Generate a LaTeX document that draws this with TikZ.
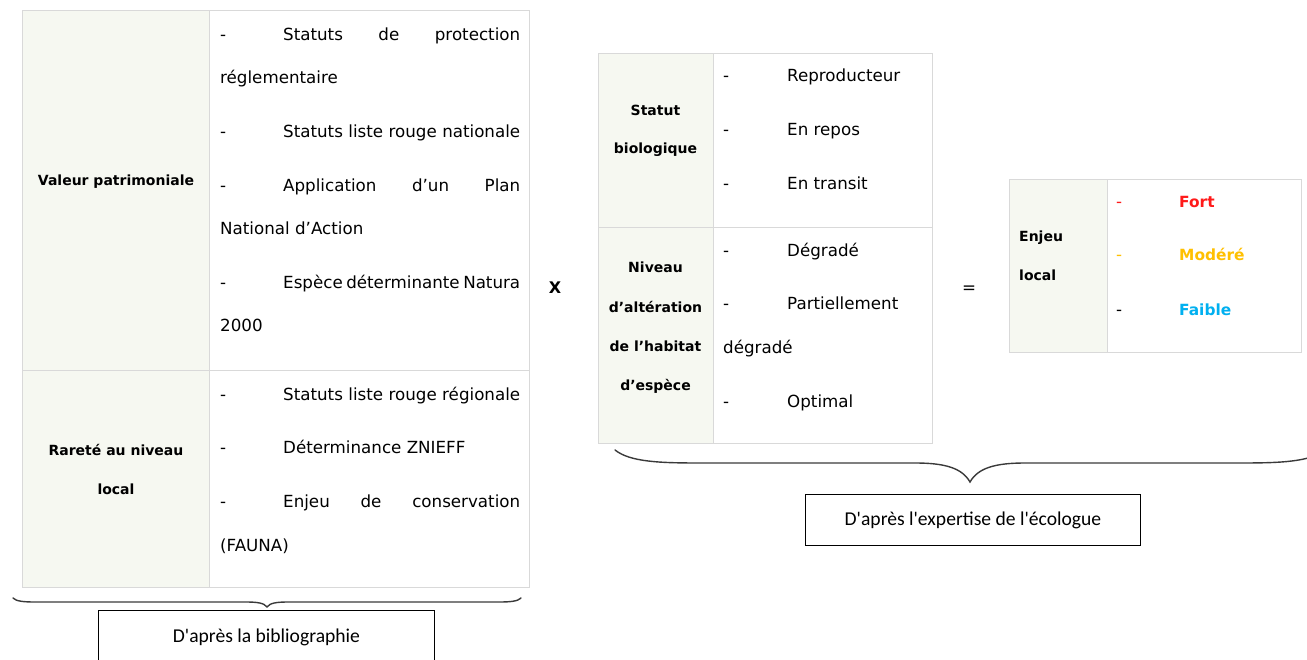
\documentclass[tikz,border=0pt]{standalone}
\usepackage{fontspec}
\setmainfont{DejaVu Sans}
\newfontfamily\boxfont{Carlito}
\definecolor{cellbg}{HTML}{F6F8F1}
\definecolor{cellln}{HTML}{D9D9D9}
\definecolor{fortc}{HTML}{FF1A1A}
\definecolor{modc}{HTML}{FFC000}
\definecolor{faic}{HTML}{00B0F0}
\definecolor{bracec}{HTML}{3A3A3A}
\newcommand\txtf{\fontsize{16.7}{20}\selectfont}
\newcommand\labf{\fontsize{14}{17}\selectfont\bfseries}
\newcommand\colf{\fontsize{15.4}{18}\selectfont\bfseries}
\newcommand\boxf{\boxfont\fontsize{19.6}{23}\selectfont}
\newcommand\mydash[1][63pt]{\makebox[#1][l]{-}}
\newcommand\myjust[1]{\makebox[300pt][s]{#1}}
\begin{document}
\begin{tikzpicture}[x=1pt,y=-1pt,
  cellL/.style={fill=cellbg,draw=cellln,line width=1.3pt,inner sep=0,anchor=north west},
  cellR/.style={fill=white,draw=cellln,line width=1.3pt,inner sep=0,anchor=north west},
  txt/.style={font=\txtf,inner sep=0,anchor=base west},
  lab/.style={font=\labf,inner sep=0,anchor=base},
  labw/.style={font=\labf,inner sep=0,anchor=base west},
  colw/.style={font=\colf,inner sep=0,anchor=base west},
  srcbox/.style={draw=black,line width=0.9pt,inner sep=0,anchor=north west,font=\boxf},
  bracest/.style={draw=bracec,line width=1.4pt,line cap=round}]
\useasboundingbox (0,0) rectangle (1307,660);
% ---------- left table
\node[cellL,minimum width=187,minimum height=360] (vpL) at (22,10) {};
\node[cellR,minimum width=320,minimum height=360] (vpR) at (209,10) {};
\node[cellL,minimum width=187,minimum height=217] (raL) at (22,370) {};
\node[cellR,minimum width=320,minimum height=217] (raR) at (209,370) {};
\node[lab] (l1) at (116,186) {Valeur patrimoniale};
\node[lab] (l2) at (116,455) {Rareté au niveau};
\node[lab] (l3) at (116,494) {local};
\node[txt] (a1) at (220,40.5) {\myjust{\mydash Statuts de protection}};
\node[txt] (a2) at (220,84) {réglementaire};
\node[txt] (a3) at (220,138) {\myjust{\mydash Statuts liste rouge nationale}};
\node[txt] (a4) at (220,191.5) {\myjust{\mydash Application d’un Plan}};
\node[txt] (a5) at (220,235) {National d’Action};
\node[txt] (a6) at (220,289) {\myjust{\mydash Espèce déterminante Natura}};
\node[txt] (a7) at (220,332) {2000};
\node[txt] (a8) at (220,400) {\myjust{\mydash Statuts liste rouge régionale}};
\node[txt] (a9) at (220,453) {\mydash Déterminance ZNIEFF};
\node[txt] (a10) at (220,507) {\myjust{\mydash Enjeu de conservation}};
\node[txt] (a11) at (220,551) {(FAUNA)};
% ---------- middle table
\node[cellL,minimum width=115,minimum height=174] (sbL) at (598,53) {};
\node[cellR,minimum width=219,minimum height=174] (sbR) at (713,53) {};
\node[cellL,minimum width=115,minimum height=216] (nvL) at (598,227) {};
\node[cellR,minimum width=219,minimum height=216] (nvR) at (713,227) {};
\node[lab] (m1) at (655.5,116) {Statut};
\node[lab] (m2) at (655.5,154) {biologique};
\node[lab] (m3) at (655.5,273) {Niveau};
\node[lab] (m4) at (655.5,313) {d’altération};
\node[lab] (m5) at (655.5,352) {de l’habitat};
\node[lab] (m6) at (655.5,391) {d’espèce};
\node[txt] (b1) at (723,82) {\mydash[64pt]Reproducteur};
\node[txt] (b2) at (723,136) {\mydash[64pt]En repos};
\node[txt] (b3) at (723,190) {\mydash[64pt]En transit};
\node[txt] (b4) at (723,257) {\mydash[64pt]Dégradé};
\node[txt] (b5) at (723,310) {\mydash[64pt]Partiellement};
\node[txt] (b6) at (723,353) {dégradé};
\node[txt] (b7) at (723,407) {\mydash[64pt]Optimal};
% ---------- right table
\node[cellL,minimum width=98,minimum height=173] (elL) at (1009,179) {};
\node[cellR,minimum width=194,minimum height=173] (elR) at (1107,179) {};
\node[labw] (r1) at (1019,242) {Enjeu};
\node[labw] (r2) at (1019,281) {local};
\node[txt] (c1) at (1116,208) {\textcolor{fortc}{\mydash}\textcolor{fortc}{\colf Fort}};
\node[txt] (c2) at (1116,261) {\textcolor{modc}{\mydash}\textcolor{modc}{\colf Modéré}};
\node[txt] (c3) at (1116,316) {\mydash\textcolor{faic}{\colf Faible}};
% ---------- operators
\node[font=\fontsize{16}{18}\selectfont\bfseries,inner sep=0] (opx) at (555,288) {X};
\node[font=\txtf,inner sep=0] (opeq) at (969,290) {=};
% ---------- braces
\draw[bracest] (13,598) .. controls (16,601) and (22,602) .. (35,602) -- (245,602)
  .. controls (258,602) and (264,603) .. (267,607)
  .. controls (270,603) and (276,602) .. (289,602) -- (499,602)
  .. controls (512,602) and (518,601) .. (521,598);
\draw[bracest] (615,450) .. controls (630,462) and (660,463) .. (700,463) -- (915,463)
  .. controls (945,463) and (962,468) .. (970,482)
  .. controls (978,468) and (995,463) .. (1025,463) -- (1240,463)
  .. controls (1280,463) and (1310,462) .. (1325,450);
% ---------- source boxes
\node[srcbox,minimum width=336,minimum height=54] (bib) at (98,610) {D'après la bibliographie};
\node[srcbox,minimum width=335,minimum height=51] (exp) at (805,494) {D'après l'expertise de l'écologue};
\end{tikzpicture}
\end{document}
